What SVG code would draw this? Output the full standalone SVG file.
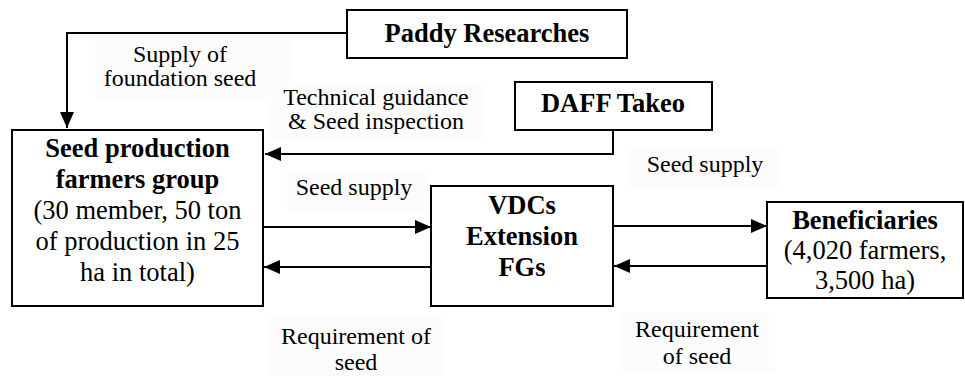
<svg xmlns="http://www.w3.org/2000/svg" width="965" height="376" viewBox="0 0 965 376">
<defs>
<marker id="ah" viewBox="0 0 16 14" refX="16" refY="7" markerWidth="16" markerHeight="14" markerUnits="userSpaceOnUse" orient="auto">
<path d="M0,0 L16,7 L0,14 Z" fill="#000"/>
</marker>
<style>
.box{fill:#fff;stroke:#000;stroke-width:2}
.ln{fill:none;stroke:#000;stroke-width:2}
text{font-family:'Liberation Serif','DejaVu Serif','Times New Roman',serif;fill:#000;text-anchor:middle}
.t{font-size:24px}
.bt{font-size:26.5px;font-weight:bold}
.nt{font-size:26.5px}
.lbg{fill:#fcfcfc}
</style>
</defs>
<rect width="965" height="376" fill="#fff"/>
<g id="label-bgs">
<rect class="lbg" x="95" y="40" width="195" height="58"/>
<rect class="lbg" x="268" y="86" width="215" height="52"/>
<rect class="lbg" x="287" y="170" width="143" height="40"/>
<rect class="lbg" x="630" y="148" width="150" height="38"/>
<rect class="lbg" x="270" y="318" width="175" height="58"/>
<rect class="lbg" x="620" y="312" width="155" height="60"/>
</g>
<g id="connectors">
<polyline class="ln" points="347,33 67,33 67,128" marker-end="url(#ah)"/>
<polyline class="ln" points="613,130 613,154 265,154" marker-end="url(#ah)"/>
<line class="ln" x1="263" y1="227" x2="431" y2="227" marker-end="url(#ah)"/>
<line class="ln" x1="431" y1="267" x2="264" y2="267" marker-end="url(#ah)"/>
<line class="ln" x1="613" y1="226" x2="767" y2="226" marker-end="url(#ah)"/>
<line class="ln" x1="767" y1="266" x2="614" y2="266" marker-end="url(#ah)"/>
</g>
<g id="labels">
<text class="t" x="180" y="62">Supply of</text>
<text class="t" x="180" y="86">foundation seed</text>
<text class="t" x="376" y="105">Technical guidance</text>
<text class="t" x="376" y="129">&amp; Seed inspection</text>
<text class="t" x="354" y="195">Seed supply</text>
<text class="t" x="705" y="172">Seed supply</text>
<text class="t" x="356" y="344">Requirement of</text>
<text class="t" x="356" y="370">seed</text>
<text class="t" x="697" y="337">Requirement</text>
<text class="t" x="697" y="364">of seed</text>
</g>
<g id="paddy">
<rect class="box" x="347" y="10" width="280" height="48"/>
<text class="bt" x="487" y="42">Paddy Researches</text>
</g>
<g id="daff">
<rect class="box" x="515" y="82" width="197" height="48"/>
<text class="bt" x="613" y="112">DAFF Takeo</text>
</g>
<g id="seedgroup">
<rect class="box" x="12" y="130" width="251" height="176"/>
<text class="bt" x="137.5" y="157">Seed production</text>
<text class="bt" x="137.5" y="188">farmers group</text>
<text class="nt" x="137.5" y="219">(30 member, 50 ton</text>
<text class="nt" x="137.5" y="250">of production in 25</text>
<text class="nt" x="137.5" y="281">ha in total)</text>
</g>
<g id="vdcs">
<rect class="box" x="431" y="186" width="182" height="120"/>
<text class="bt" x="522" y="214">VDCs</text>
<text class="bt" x="522" y="245">Extension</text>
<text class="bt" x="522" y="276">FGs</text>
</g>
<g id="beneficiaries">
<rect class="box" x="767" y="202" width="196" height="96"/>
<text class="bt" x="865" y="229">Beneficiaries</text>
<text class="nt" x="865" y="259">(4,020 farmers,</text>
<text class="nt" x="865" y="289">3,500 ha)</text>
</g>
</svg>
